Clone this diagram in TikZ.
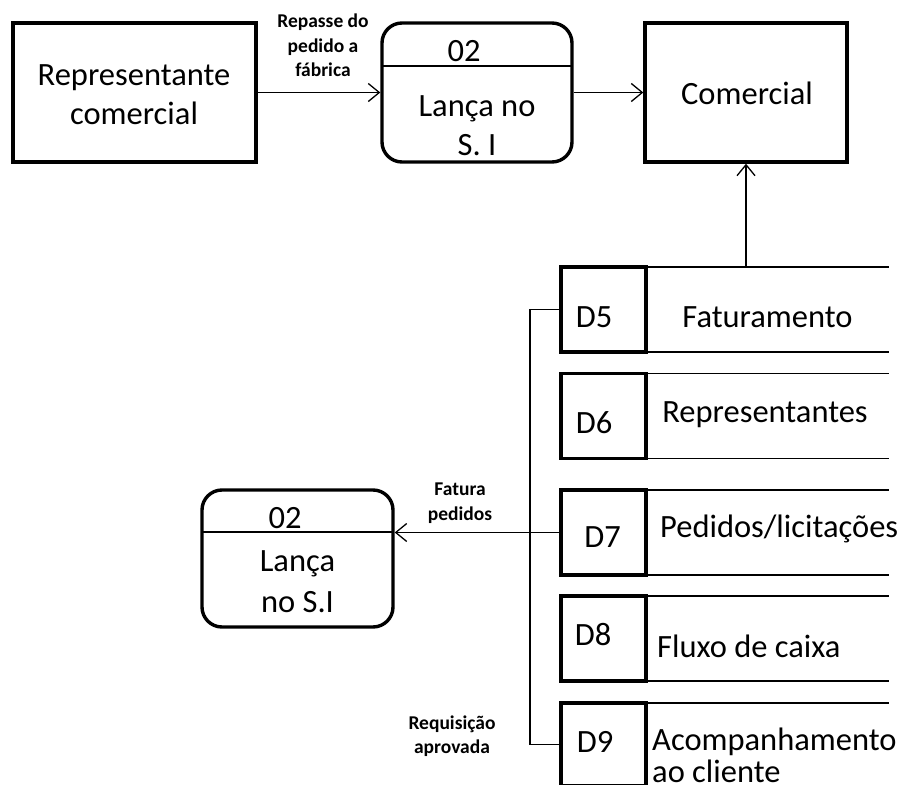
\documentclass[tikz,border=0pt]{standalone}
\usepackage{fontspec}
\setmainfont{Carlito}
\usetikzlibrary{arrows.meta}
\begin{document}
\begin{tikzpicture}[x=1pt,y=-1pt,
  entity/.style={draw, line width=3.4pt, inner sep=0pt},
  process/.style={draw, line width=3.4pt, rounded corners=20pt, inner sep=0pt},
  storebox/.style={draw, line width=3.4pt, minimum width=85pt, minimum height=85pt, inner sep=0pt, outer sep=0pt},
  link/.style={line width=1.3pt},
  flow/.style={line width=1.3pt, -{Straight Barb[length=11pt,width=18pt,line width=1.3pt]}},
  bigtext/.style={font=\fontsize{32.5}{38}\selectfont, inner sep=0pt, anchor=base},
  bigleft/.style={bigtext, anchor=base west},
  flowlabel/.style={font=\bfseries\fontsize{19.5}{24}\selectfont, inner sep=0pt, anchor=base}]
\clip (0,0) rectangle (907,784);

% external entities
\node[entity, minimum width=243pt, minimum height=139pt] (rep) at (134.5,92.5) {};
\node[bigtext] (repl1) at (134,85) {Representante};
\node[bigtext] (repl2) at (134,124) {comercial};
\node[entity, minimum width=202pt, minimum height=139pt] (com) at (746,92.5) {};
\node[bigtext] (coml) at (747,104) {Comercial};

% process 02 (top)
\node[process, minimum width=190pt, minimum height=139pt] (procA) at (477,92.5) {};
\draw[link] (382,66) -- (572,66);
\node[bigtext] (procAid) at (464,62) {02};
\node[bigtext] (procAl1) at (477,116) {Lança no};
\node[bigtext] (procAl2) at (477,155) {S. I};

% process 02 (bottom)
\node[process, minimum width=191pt, minimum height=137pt] (procB) at (297.5,558.5) {};
\draw[link] (202,532) -- (393,532);
\node[bigtext] (procBid) at (285,528) {02};
\node[bigtext] (procBl1) at (297.5,571) {Lança};
\node[bigtext] (procBl2) at (297.5,612) {no S.I};

% data stores
\node[storebox] (d5) at (603.5,309.5) {};
\node[storebox] (d6) at (603.5,416) {};
\node[storebox] (d7) at (603.5,532.5) {};
\node[storebox] (d8) at (603.5,638.5) {};
\node[storebox, minimum height=83pt] (d9) at (603.5,744.5) {};
\foreach \s in {d5,d6,d7,d8}{
  \draw[link] (\s.north east) -- (\s.north east -| 889,0);
  \draw[link] (\s.south east) -- (\s.south east -| 889,0);
}
\draw[link] (d9.north east) -- (d9.north east -| 889,0);

\node[bigtext] (d5id) at (594,327) {D5};
\node[bigtext] (d6id) at (594,433) {D6};
\node[bigtext] (d7id) at (602.5,547) {D7};
\node[bigtext] (d8id) at (593,645) {D8};
\node[bigtext] (d9id) at (595,752) {D9};

\node[bigtext] (d5name) at (767.5,327) {Faturamento};
\node[bigtext] (d6name) at (765,422) {Representantes};
\node[bigleft] (d7name) at (660,537) {Pedidos/licitações};
\node[bigleft] (d8name) at (657,657) {Fluxo de caixa};
\node[bigleft] (d9name) at (652,750) {Acompanhamento};
\node[bigleft] (d9name2) at (652,782) {ao cliente};

% flows
\draw[flow] (rep.east) -- (procA.west);
\draw[flow] (procA.east) -- (com.west);
\coordinate (d5top) at (746,267);
\draw[flow] (d5top) -- (com.south);
\draw[link] (d5.west) -- ++(-31,0) |- (d9.west);
\draw[flow] (d7.west) -- (procB.east |- d7.west);

% flow labels
\node[flowlabel] (lblA1) at (323,28) {Repasse do};
\node[flowlabel] (lblA2) at (323,52.5) {pedido a};
\node[flowlabel] (lblA3) at (323,77) {fábrica};
\node[flowlabel] (lblB1) at (460,495) {Fatura};
\node[flowlabel] (lblB2) at (460,520) {pedidos};
\node[flowlabel] (lblC1) at (452,729) {Requisição};
\node[flowlabel] (lblC2) at (452,753) {aprovada};
\end{tikzpicture}
\end{document}
